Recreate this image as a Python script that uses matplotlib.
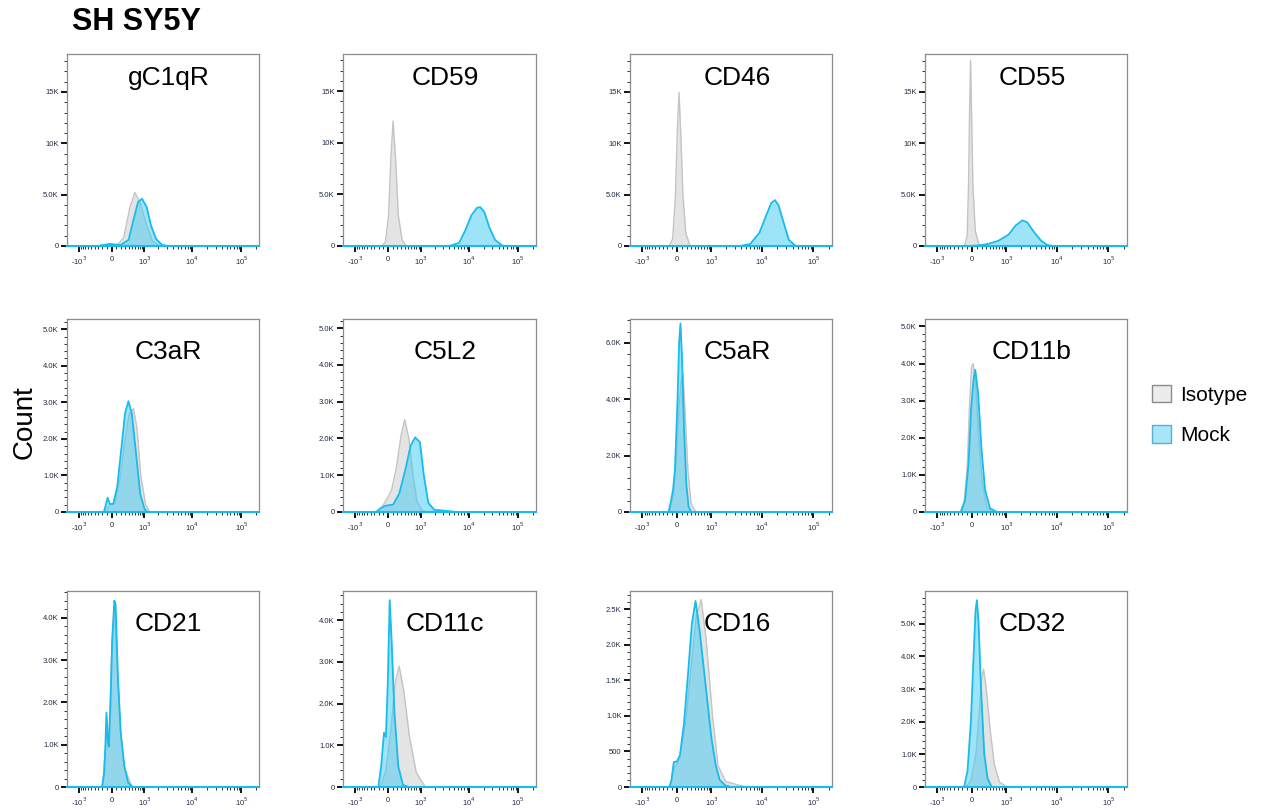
import numpy as np
import matplotlib.pyplot as plt
from matplotlib.patches import Patch
from matplotlib.ticker import FixedLocator, FuncFormatter

plt.rcParams['font.family'] = ['Liberation Sans', 'DejaVu Sans']

markers = ['gC1qR', 'CD59', 'CD46', 'CD55',
           'C3aR', 'C5L2', 'C5aR', 'CD11b',
           'CD21', 'CD11c', 'CD16', 'CD32']

# y range (counts) and tick steps for each panel
y_max = [18700, 18600, 18700, 18700, 5280, 5250, 6850, 5200, 4630, 4700, 2760, 6000]
y_step = [5000, 5000, 5000, 5000, 1000, 1000, 2000, 1000, 1000, 1000, 500, 1000]
y_minor = [1000, 1000, 1000, 1000, 200, 200, 400, 200, 200, 200, 100, 200]

x_ticks = [-1000, 0, 1000, 10000, 100000]
x_labels = [r'-10$^3$', r'0$^{\,}$', r'10$^3$', r'10$^4$', r'10$^5$']

# fluorescence (x) and count (y)
gc1qr_iso_x = [-305, -81, 123, 270, 440, 600, 790, 1130, 1500, 2030, 2770]
gc1qr_iso_y = [0, 150, 100, 800, 3800, 5200, 4300, 2000, 500, 50, 0]
gc1qr_mock_x = [-305, -45, 195, 400, 545, 720, 890, 1130, 1400, 1790, 2400, 3250]
gc1qr_mock_y = [0, 200, 100, 600, 2500, 4300, 4600, 3800, 2000, 700, 100, 0]

cd59_iso_x = [-132, -49, 16, 65, 113, 166, 229, 324, 430]
cd59_iso_y = [0, 400, 3000, 8500, 12100, 8500, 3000, 600, 0]
cd59_mock_x = [4000, 6300, 8400, 11300, 14600, 16900, 20500, 26000, 33800, 47000, 55000]
cd59_mock_y = [0, 300, 1500, 3000, 3700, 3770, 3300, 1800, 600, 50, 0]

cd46_iso_x = [-160, -85, -28, 7, 43, 78, 122, 185, 287]
cd46_iso_y = [0, 700, 5000, 11000, 14950, 11000, 5000, 1200, 0]
cd46_mock_x = [3800, 5950, 9000, 12200, 15300, 17960, 21000, 26400, 33400, 45500]
cd46_mock_y = [0, 200, 1300, 3000, 4200, 4470, 4000, 2300, 600, 0]

cd55_iso_x = [-152, -95, -68, -47, -27, -7, 20, 68, 137, 195]
cd55_iso_y = [0, 1000, 6000, 13000, 18100, 13000, 6000, 1500, 200, 0]
cd55_mock_x = [-81, 123, 352, 660, 1110, 1560, 2130, 2650, 3540, 4980, 6550, 8420]
cd55_mock_y = [0, 50, 200, 500, 1100, 2000, 2500, 2300, 1400, 500, 100, 0]

c3ar_iso_x = [-145, -36, 72, 184, 305, 420, 550, 675, 830, 1070, 1320]
c3ar_iso_y = [0, 200, 250, 900, 2000, 2700, 2830, 2300, 1000, 200, 0]
c3ar_mock_x = [-165, -122, -85, -36, 36, 123, 220, 305, 395, 495, 640, 805, 1000, 1160]
c3ar_mock_y = [0, 200, 390, 220, 220, 700, 1800, 2700, 3030, 2700, 1600, 500, 100, 0]

c5l2_iso_x = [-240, -118, -20, 81, 184, 300, 395, 520, 665, 815, 1060, 1340]
c5l2_iso_y = [0, 150, 350, 600, 1200, 2100, 2510, 2000, 1000, 300, 50, 0]
c5l2_mock_x = [-265, -155, -53, 113, 253, 425, 575, 745, 960, 1170, 1460, 1950, 3500, 5500]
c5l2_mock_y = [0, 100, 170, 200, 500, 1200, 1800, 2030, 1900, 1000, 250, 60, 30, 0]

c5ar_iso_x = [-160, -72, -5, 45, 91, 123, 170, 230, 305, 430]
c5ar_iso_y = [0, 600, 2000, 3800, 4700, 4900, 3500, 1500, 300, 0]
c5ar_mock_x = [-170, -118, -77, -39, 13, 45, 72, 104, 145, 195, 245, 305]
c5ar_mock_y = [0, 400, 800, 1500, 4000, 6000, 6690, 5500, 3000, 1000, 200, 0]

cd11b_iso_x = [-245, -155, -95, -50, -7, 27, 77, 140, 214, 318, 455]
cd11b_iso_y = [0, 300, 1200, 2800, 3900, 4000, 3400, 2000, 800, 150, 0]
cd11b_mock_x = [-230, -141, -68, -14, 36, 68, 127, 199, 280, 405, 615]
cd11b_mock_y = [0, 300, 1300, 2800, 3600, 3830, 3200, 1700, 600, 100, 0]

cd21_iso_x = [-200, -130, -109, -60, 10, 65, 130, 200, 290, 500]
cd21_iso_y = [0, 900, 1650, 950, 3400, 4300, 2600, 1250, 450, 0]
cd21_mock_x = [-210, -162, -132, -109, -81, -58, -22, 14, 59, 86, 137, 199, 285, 388, 525]
cd21_mock_y = [0, 300, 1000, 1760, 1100, 950, 2000, 3500, 4400, 4300, 2600, 1300, 500, 100, 0]

cd11c_iso_x = [-160, -40, 59, 161, 250, 370, 540, 790, 1260]
cd11c_iso_y = [0, 400, 1300, 2500, 2900, 2300, 1200, 350, 0]
cd11c_mock_x = [-205, -141, -81, -40, 0, 40, 81, 141, 229, 346, 510]
cd11c_mock_y = [0, 500, 1300, 1200, 2500, 4480, 3500, 1800, 500, 50, 0]

cd16_iso_x = [-141, -63, 50, 180, 325, 440, 590, 765, 1060, 1380, 1950, 3390, 5100]
cd16_iso_y = [0, 250, 400, 900, 1800, 2400, 2640, 2100, 1000, 300, 80, 30, 0]
cd16_mock_x = [-151, -109, -63, 0, 63, 146, 234, 325, 420, 540, 700, 1000, 1240, 1490, 1950, 2550]
cd16_mock_y = [0, 100, 350, 360, 450, 900, 1600, 2300, 2620, 2200, 1600, 700, 300, 100, 20, 0]

cd32_iso_x = [-123, -20, 81, 151, 203, 246, 310, 415, 530, 705, 1030]
cd32_iso_y = [0, 200, 1000, 2300, 3300, 3610, 3000, 1700, 700, 150, 0]
cd32_mock_x = [-158, -88, -20, 34, 74, 102, 137, 189, 262, 344, 455]
cd32_mock_y = [0, 500, 2000, 4000, 5400, 5720, 5000, 3000, 1000, 250, 0]

iso_series = [(gc1qr_iso_x, gc1qr_iso_y), (cd59_iso_x, cd59_iso_y), (cd46_iso_x, cd46_iso_y),
              (cd55_iso_x, cd55_iso_y), (c3ar_iso_x, c3ar_iso_y), (c5l2_iso_x, c5l2_iso_y),
              (c5ar_iso_x, c5ar_iso_y), (cd11b_iso_x, cd11b_iso_y), (cd21_iso_x, cd21_iso_y),
              (cd11c_iso_x, cd11c_iso_y), (cd16_iso_x, cd16_iso_y), (cd32_iso_x, cd32_iso_y)]
mock_series = [(gc1qr_mock_x, gc1qr_mock_y), (cd59_mock_x, cd59_mock_y), (cd46_mock_x, cd46_mock_y),
               (cd55_mock_x, cd55_mock_y), (c3ar_mock_x, c3ar_mock_y), (c5l2_mock_x, c5l2_mock_y),
               (c5ar_mock_x, c5ar_mock_y), (cd11b_mock_x, cd11b_mock_y), (cd21_mock_x, cd21_mock_y),
               (cd11c_mock_x, cd11c_mock_y), (cd16_mock_x, cd16_mock_y), (cd32_mock_x, cd32_mock_y)]

# biexponential-like axis
W = 450.0
def fwd(x):
    return np.arcsinh(np.asarray(x, dtype=float) / W)
def inv(y):
    return W * np.sinh(y)

def count_fmt(v, pos):
    if v == 0:
        return '0'
    if v < 1000:
        return '%d' % v
    if v < 10000:
        return '%.1fK' % (v / 1000)
    return '%dK' % (v / 1000)

x_minor = ([-k * 100 for k in range(1, 10)] + [k * 100 for k in range(1, 10)] +
           [k * 1000 for k in range(2, 10)] + [k * 10000 for k in range(2, 10)] + [200000])

iso_fill = '#dcdcdc'
iso_edge = '#c4c4c4'
mock_fill = '#3fcaf2'
mock_edge = '#17bbec'
frame = '#8c8c8c'

W_PX, H_PX = 1262, 810
col_px = [(67, 259), (343, 536), (630, 832), (925, 1127)]
row_px = [(54, 246), (319, 512), (591, 787)]

fig = plt.figure(figsize=(W_PX / 100, H_PX / 100), dpi=100)

for i, name in enumerate(markers):
    r, c = divmod(i, 4)
    x0, x1 = col_px[c]
    t, b = row_px[r]
    ax = fig.add_axes([x0 / W_PX, 1 - b / H_PX, (x1 - x0) / W_PX, (b - t) / H_PX])
    ax.set_xscale('function', functions=(fwd, inv))
    ax.set_xlim(-1800, 230000)
    ax.set_ylim(0, y_max[i])

    ix, iy = iso_series[i]
    mx, my = mock_series[i]
    ax.fill_between(ix, 0, iy, color=iso_fill, alpha=0.75, lw=0, zorder=1)
    ax.plot(ix, iy, color=iso_edge, lw=1.0, zorder=2)
    ax.fill_between(mx, 0, my, color=mock_fill, alpha=0.5, lw=0, zorder=3)
    ax.plot(mx, my, color=mock_edge, lw=1.3, zorder=4)
    ax.axhline(0, color=mock_edge, lw=1.5, zorder=5, clip_on=False)

    ax.xaxis.set_major_locator(FixedLocator(x_ticks))
    ax.set_xticklabels(x_labels)
    ax.xaxis.set_minor_locator(FixedLocator(x_minor))
    ax.yaxis.set_major_locator(FixedLocator(np.arange(0, y_max[i], y_step[i])))
    ax.yaxis.set_minor_locator(FixedLocator(np.arange(0, y_max[i], y_minor[i])))
    ax.yaxis.set_major_formatter(FuncFormatter(count_fmt))

    ax.tick_params(axis='both', which='major', length=4, width=1.3, color='black',
                   labelsize=5.5, labelcolor='#1f2a44', pad=2)
    ax.tick_params(axis='both', which='minor', length=2, width=0.7, color='#333333')
    for s in ['top', 'right', 'left']:
        ax.spines[s].set_color(frame)
        ax.spines[s].set_linewidth(0.9)
    ax.spines['bottom'].set_visible(False)

    ty = 0.875 if r == 0 else 0.83
    ax.text(0.53, ty, name, transform=ax.transAxes, ha='center', va='center',
            fontsize=19, color='black', zorder=6)

fig.text(72 / W_PX, 1 - 22 / H_PX, 'SH SY5Y', fontsize=22, fontweight='bold',
         ha='left', va='center')
fig.text(25 / W_PX, 1 - 422 / H_PX, 'Count', fontsize=20, rotation=90,
         ha='center', va='center')

handles = [Patch(facecolor='#ececec', edgecolor='#8a8a8a', label='Isotype'),
           Patch(facecolor='#a6e6f8', edgecolor='#5aaed0', label='Mock')]
fig.legend(handles=handles, loc='center left', bbox_to_anchor=(1133 / W_PX, 1 - 415 / H_PX),
           frameon=False, fontsize=15, handlelength=0.9, handleheight=0.9,
           handletextpad=0.45, labelspacing=1.0)

fig.savefig('out.png', dpi=100)
